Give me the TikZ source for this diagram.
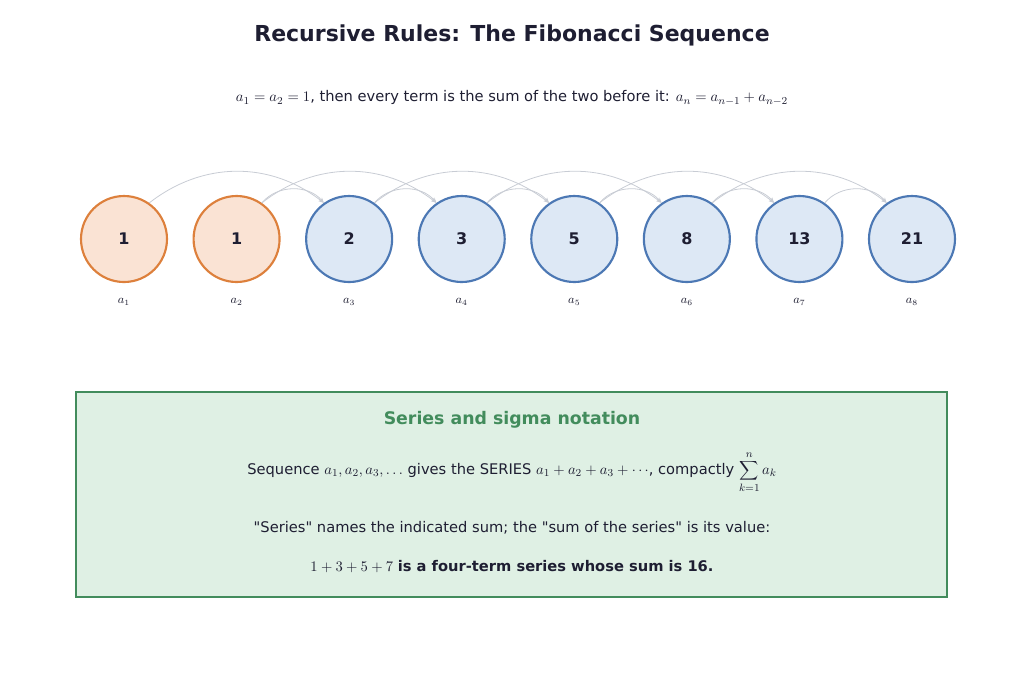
\documentclass[tikz,border=0pt]{standalone}
\usepackage{fontspec}
\setmainfont{DejaVu Sans}[Ligatures=TeXOff]
\usetikzlibrary{positioning,arrows.meta}
\definecolor{seedfill}{RGB}{250,227,212}
\definecolor{seedline}{RGB}{221,128,60}
\definecolor{termfill}{RGB}{221,232,245}
\definecolor{termline}{RGB}{76,120,180}
\definecolor{boxfill}{RGB}{223,240,228}
\definecolor{boxline}{RGB}{66,140,92}
\definecolor{ink}{RGB}{30,30,50}
\tikzset{
  term/.style={circle,draw=termline,fill=termfill,line width=1.6pt,minimum size=64.5pt,inner sep=0pt,font=\bfseries\large,text=ink},
  seed/.style={term,draw=seedline,fill=seedfill},
  link/.style={draw={rgb,255:red,200;green,204;blue,212},line width=0.6pt,-{Stealth[length=4pt,width=3pt]}},
}
\begin{document}
\begin{tikzpicture}[x=0.75pt,y=0.75pt,yscale=-1,xscale=1]
\useasboundingbox (0,0) rectangle (1024,683);

% Title
\node (title) at (512,35) {\fontsize{16.5}{20}\selectfont\bfseries\color{ink} Recursive Rules: The Fibonacci Sequence};
\node (sub) at (512,98) {\fontsize{11}{13}\selectfont\color{ink} $a_1=a_2=1$, then every term is the sum of the two before it: $a_n=a_{n-1}+a_{n-2}$};

% Terms
\foreach \v [count=\i] in {1,1,2,3,5,8,13,21} {
  \ifnum\i<3 \def\sty{seed}\else\def\sty{term}\fi
  \node[\sty] (t\i) at ({124+112.57*(\i-1)},239) {\v};
  \node[font=\small,text=ink] (l\i) at ({124+112.57*(\i-1)},302) {$a_{\i}$};
}

% Recursion arcs
\foreach \i in {3,...,8} {
  \pgfmathtruncatemacro{\p}{\i-1}
  \pgfmathtruncatemacro{\q}{\i-2}
  \draw[link] (t\q.55) to[bend right=38] (t\i.125);
  \draw[link] (t\p.55) to[bend right=50] (t\i.125);
}

% Series box
\draw[draw=boxline,fill=boxfill,line width=1.6pt] (76,392) rectangle (947,597);
\node (bt) at (512,420) {\fontsize{13}{15}\selectfont\bfseries\color{boxline} Series and sigma notation};
\node (b1) at (512,472) {\fontsize{11}{13}\selectfont\color{ink} Sequence $a_1,a_2,a_3,\ldots$ gives the SERIES $a_1+a_2+a_3+\cdots$, compactly $\displaystyle\sum_{k=1}^{n}a_k$};
\node (b2) at (512,528) {\fontsize{11}{13}\selectfont\color{ink} "Series" names the indicated sum; the "sum of the series" is its value:};
\node (b3) at (512,567) {\fontsize{11}{13}\selectfont\color{ink} $1+3+5+7$ \bfseries is a four-term series whose sum is 16.};
\end{tikzpicture}
\end{document}
